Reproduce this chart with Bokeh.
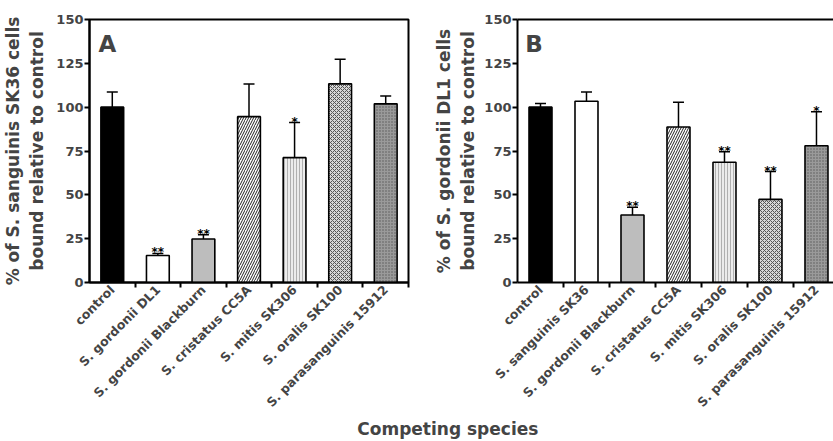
import math
from bokeh.plotting import figure
from bokeh.models import (ColumnDataSource, Range1d, FixedTicker, Whisker, TeeHead,
                          Label, LinearAxis)
from bokeh.layouts import row, column
from bokeh.embed import file_html
from bokeh.resources import INLINE
from bokeh.core.properties import value

# ---------------- data ----------------
species_a = ["control", "S. gordonii DL1", "S. gordonii Blackburn", "S. cristatus CC5A",
             "S. mitis SK306", "S. oralis SK100", "S. parasanguinis 15912"]
mean_a = [100.0, 15.4, 24.8, 94.6, 71.2, 113.3, 101.9]
err_a = [8.7, 1.2, 2.5, 18.6, 20.0, 14.0, 4.5]
sig_a = ["", "**", "**", "", "*", "", ""]

species_b = ["control", "S. sanguinis SK36", "S. gordonii Blackburn", "S. cristatus CC5A",
             "S. mitis SK306", "S. oralis SK100", "S. parasanguinis 15912"]
mean_b = [100.0, 103.4, 38.5, 88.7, 68.6, 47.4, 78.0]
err_b = [2.1, 5.3, 4.4, 14.1, 6.0, 15.9, 19.4]
sig_b = ["", "", "**", "", "**", "**", "*"]

y_ticks = [0, 25, 50, 75, 100, 125, 150]

title_a = "% of S. sanguinis SK36 cells\nbound relative to control"
title_b = "% of S. gordonii DL1 cells\nbound relative to control"
x_title = "Competing species"

# ---------------- styles ----------------
fills_a = ["black", "white", "#bdbdbd", "white", "#ececec", "#d8d8d8", "#9a9a9a"]
hatch_a = [" ", " ", " ", "/", "|", "x", "."]
fills_b = ["black", "white", "#bdbdbd", "white", "#ececec", "#d8d8d8", "#9a9a9a"]
hatch_b = [" ", " ", " ", "/", "|", "x", "."]
hcolor = ["black", "black", "black", "#222222", "#b0b0b0", "#555555", "#5a5a5a"]
hscale = [6, 6, 6, 5, 3, 4, 3]

FONT = "DejaVu Sans"
ROW_H = 418


def panel(names, means, errs, sigs, fills, hatches, title, letter, width,
          min_left, x_end, title_standoff, outline, letter_x):
    n = len(names)
    centers = [i + 1 for i in range(n)]
    bounds = [i + 1.5 for i in range(n)]
    src = ColumnDataSource(dict(
        x=centers, top=means, upper=[m + e for m, e in zip(means, errs)], sig=sigs,
        fill=fills, hatch=hatches, hcolor=hcolor, hscale=hscale))

    p = figure(width=width, height=ROW_H, output_backend="svg", toolbar_location=None,
               x_range=Range1d(0.5, x_end), y_range=Range1d(0, 150),
               min_border_left=min_left, min_border_right=0 if not outline else 2,
               min_border_top=19, min_border_bottom=ROW_H - 285,
               background_fill_color="white", border_fill_color="white")
    p.grid.visible = False

    p.vbar(x="x", top="top", bottom=0, width=0.5, source=src,
           fill_color="fill", hatch_pattern="hatch", hatch_color="hcolor",
           hatch_scale="hscale", hatch_weight=1, line_color="black", line_width=1.6)

    p.add_layout(Whisker(source=src, base="x", lower="top", upper="upper",
                         dimension="height", line_color="black", line_width=1.5,
                         upper_head=TeeHead(size=11, line_color="black", line_width=1.5),
                         lower_head=None, level="overlay"))

    p.text(x="x", y="upper", text="sig", source=src, text_align="center",
           text_baseline="alphabetic", text_font=value(FONT), text_font_style="bold",
           text_font_size="12px", text_color="black", y_offset=-1)

    p.add_layout(Label(x=letter_x, y=136, text=letter, text_font=FONT,
                       text_font_style="bold", text_font_size="23px",
                       text_baseline="alphabetic", text_align="left"))

    # y axis
    ya = p.left[0]
    ya.ticker = FixedTicker(ticks=y_ticks)
    ya.axis_line_width = 2
    ya.major_tick_line_width = 2
    ya.major_tick_out = 5
    ya.major_tick_in = 0
    ya.minor_tick_line_color = None
    ya.major_label_text_font = FONT
    ya.major_label_text_font_style = "bold"
    ya.major_label_text_font_size = "13px"
    ya.major_label_standoff = 1
    ya.axis_label = title
    ya.axis_label_text_font = FONT
    ya.axis_label_text_font_style = "bold"
    ya.axis_label_text_font_size = "17px"
    ya.axis_label_standoff = title_standoff

    # x axis: names at bar centres, tick marks between bars
    xa = p.below[0]
    xa.ticker = FixedTicker(ticks=centers, minor_ticks=bounds)
    xa.major_label_overrides = {c: nm for c, nm in zip(centers, names)}
    xa.major_label_orientation = math.pi / 4
    xa.major_tick_line_color = None
    xa.major_tick_out = 0
    xa.major_tick_in = 0
    xa.minor_tick_out = 5
    xa.minor_tick_in = 0
    xa.minor_tick_line_width = 2
    xa.minor_tick_line_color = "black"
    xa.axis_line_width = 2
    xa.major_label_text_font = FONT
    xa.major_label_text_font_style = "bold"
    xa.major_label_text_font_size = "12.5px"
    xa.major_label_standoff = 0

    if outline:
        p.outline_line_color = "black"
        p.outline_line_width = 2
    else:
        p.outline_line_color = None
        top_axis = LinearAxis(ticker=FixedTicker(ticks=[]), major_label_text_font_size="0px",
                              major_tick_line_color=None, minor_tick_line_color=None,
                              major_tick_out=0, major_label_standoff=0,
                              axis_line_width=2, axis_line_color="black")
        p.add_layout(top_axis, "above")
    return p


pa = panel(species_a, mean_a, err_a, sig_a, fills_a, hatch_a, title_a, "A",
           410, 88, 7.5, 6, True, 0.7)
pb = panel(species_b, mean_b, err_b, sig_b, fills_b, hatch_b, title_b, "B",
           423, 107, 7.37, 3, False, 0.67)

strip = figure(width=833, height=441 - ROW_H, output_backend="svg", toolbar_location=None,
               x_range=Range1d(0, 1), y_range=Range1d(0, 1),
               x_axis_type=None, y_axis_type=None, min_border=0,
               min_border_left=0, min_border_right=0, min_border_top=0, min_border_bottom=0)
strip.grid.visible = False
strip.outline_line_color = None
strip.add_layout(Label(x=0.537, y=1.0, text=x_title, text_font=FONT,
                       text_font_style="bold", text_font_size="17px",
                       text_align="center", text_baseline="top"))

layout = column(row(pa, pb), strip)
open("out.html", "w").write(file_html(layout, INLINE))
